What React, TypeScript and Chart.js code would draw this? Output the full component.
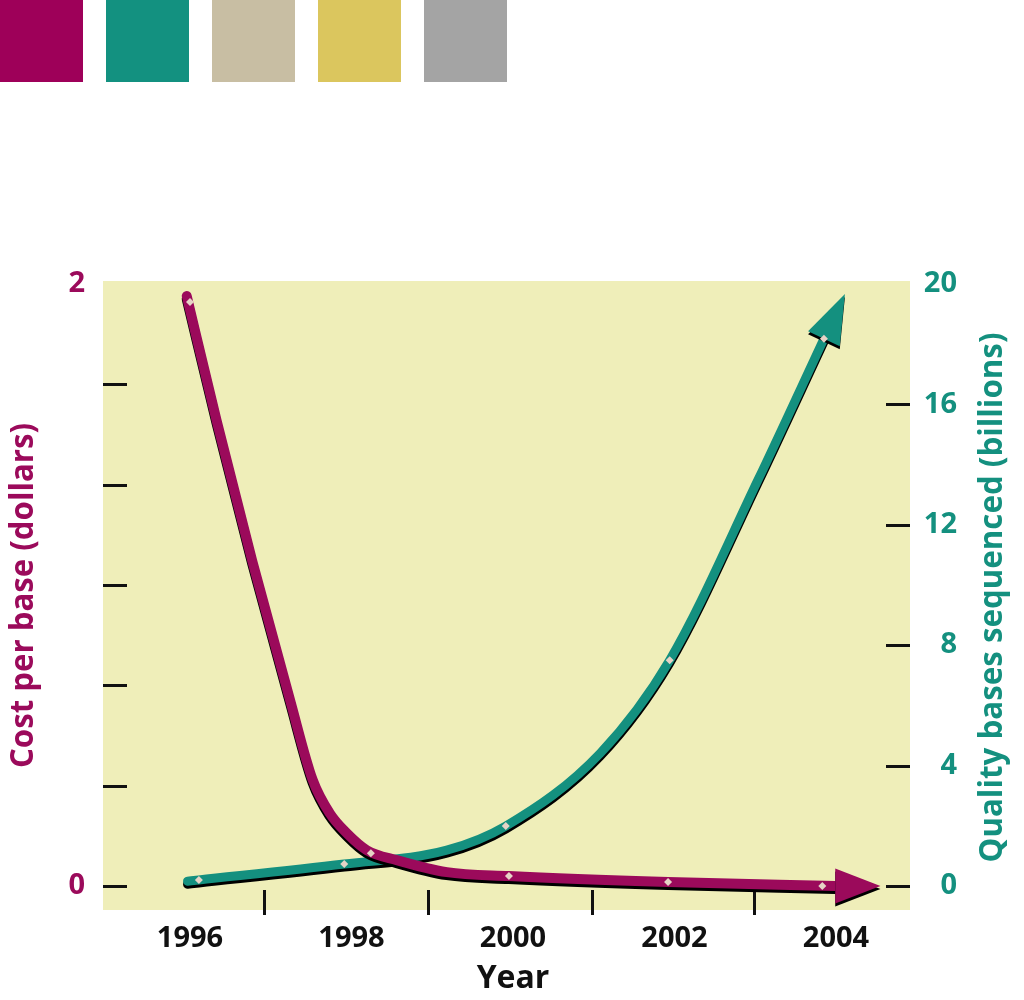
import React, { useEffect, useRef } from 'react';
import { Chart, registerables } from 'chart.js';

Chart.register(...registerables);

// ---------- data ----------
const swatchColors = ['#9e0059', '#139180', '#c8bea3', '#dbc65e', '#a4a4a4'];

const labeledYears = [1996, 1998, 2000, 2002, 2004];
const minorTickYears = [1996.92, 1998.95, 2000.98, 2002.98];
const costTicks = [0, 1 / 3, 2 / 3, 1, 4 / 3, 5 / 3, 2];
const costTickMarks = [0, 1 / 3, 2 / 3, 1, 4 / 3, 5 / 3];
const basesTicks = [0, 4, 8, 12, 16, 20];
const basesTickMarks = [0, 4, 8, 12, 16];

// cost per base (dollars) curve
const costCurveYears = [1995.96, 1996.33, 1996.77, 1997.24, 1997.52, 1997.73, 1997.94, 1998.19, 1998.56, 1999.18, 1999.95, 2001.92, 2003.99];
const costCurveValues = [1.96, 1.546, 1.081, 0.617, 0.352, 0.242, 0.176, 0.119, 0.086, 0.046, 0.033, 0.013, 0.0];
const costArrowTip = [2004.55, 0.0];
const costMarkerYears = [1996.0, 1998.24, 1999.95, 2001.92, 2003.83];
const costMarkerValues = [1.94, 0.109, 0.033, 0.013, 0.0];

// quality bases sequenced (billions) curve
const basesCurveYears = [1995.97, 1996.11, 1997.91, 1999.18, 1999.91, 2001.08, 2001.94, 2003.03, 2003.85];
const basesCurveValues = [0.16, 0.2, 0.73, 1.19, 1.99, 4.41, 7.5, 13.47, 18.18];
const basesArrowTip = [2004.11, 19.67];
const basesMarkerYears = [1996.11, 1997.91, 1999.91, 2001.94, 2003.85];
const basesMarkerValues = [0.2, 0.73, 1.99, 7.5, 18.18];

// ---------- style ----------
const MAGENTA = '#9b0a5b';
const TEAL = '#14907f';
const BG = '#efeeb9';
const MARKER = '#e6d3c6';
const FONT = '"Open Sans", "DejaVu Sans", sans-serif';

const pts = (xs: number[], ys: number[]) => xs.map((x, i) => ({ x, y: ys[i] }));

const arrowTips: Record<string, number[]> = {
  cost: costArrowTip,
  bases: basesArrowTip,
};

const customPlugin = {
  id: 'customDecor',
  beforeDraw(chart: any) {
    const { ctx, chartArea } = chart;
    ctx.save();
    ctx.fillStyle = BG;
    ctx.fillRect(chartArea.left, chartArea.top, chartArea.right - chartArea.left, chartArea.bottom - chartArea.top);
    ctx.restore();
  },
  beforeDatasetsDraw(chart: any) {
    const { ctx, chartArea, scales } = chart;
    ctx.save();
    ctx.strokeStyle = '#111';
    ctx.lineWidth = 3;
    ctx.beginPath();
    costTickMarks.forEach((v) => {
      const y = Math.round(scales.y.getPixelForValue(v)) + 0.5;
      ctx.moveTo(chartArea.left, y);
      ctx.lineTo(chartArea.left + 24, y);
    });
    basesTickMarks.forEach((v) => {
      const y = Math.round(scales.y1.getPixelForValue(v)) + 0.5;
      ctx.moveTo(chartArea.right - 24, y);
      ctx.lineTo(chartArea.right, y);
    });
    minorTickYears.forEach((v) => {
      const x = Math.round(scales.x.getPixelForValue(v)) + 0.5;
      ctx.moveTo(x, chartArea.bottom - 20);
      ctx.lineTo(x, chartArea.bottom + 5);
    });
    ctx.stroke();
    ctx.restore();
  },
  beforeDatasetDraw(chart: any, args: any) {
    const ds = chart.data.datasets[args.index];
    if (!arrowTips[ds.label]) return;
    const ctx = chart.ctx;
    ctx.save();
    ctx.shadowColor = '#000';
    ctx.shadowOffsetX = 0;
    ctx.shadowOffsetY = 3;
    ctx.shadowBlur = 0;
  },
  afterDatasetDraw(chart: any, args: any) {
    const ds = chart.data.datasets[args.index];
    const tip = arrowTips[ds.label];
    if (!tip) return;
    const ctx = chart.ctx;
    const meta = chart.getDatasetMeta(args.index);
    const last = meta.data[meta.data.length - 1];
    const yScale = chart.scales[ds.yAxisID];
    const tx = chart.scales.x.getPixelForValue(tip[0]);
    const ty = yScale.getPixelForValue(tip[1]);
    const dx = tx - last.x;
    const dy = ty - last.y;
    const len = Math.hypot(dx, dy);
    const nx = -dy / len;
    const ny = dx / len;
    const hw = 17.5;
    ctx.fillStyle = ds.borderColor;
    ctx.beginPath();
    ctx.moveTo(tx, ty);
    ctx.lineTo(last.x + nx * hw, last.y + ny * hw);
    ctx.lineTo(last.x - nx * hw, last.y - ny * hw);
    ctx.closePath();
    ctx.fill();
    ctx.restore();
  },
  afterDraw(chart: any) {
    const { ctx, chartArea, scales } = chart;
    const midY = (chartArea.top + chartArea.bottom) / 2;
    ctx.save();
    ctx.textAlign = 'center';
    ctx.textBaseline = 'middle';
    // left title
    ctx.font = `bold 31.5px ${FONT}`;
    ctx.fillStyle = MAGENTA;
    ctx.save();
    ctx.translate(24, midY);
    ctx.rotate(-Math.PI / 2);
    ctx.fillText('Cost per base (dollars)', 0, 0, 345);
    ctx.restore();
    // right title
    ctx.font = `bold 32px ${FONT}`;
    ctx.fillStyle = TEAL;
    ctx.save();
    ctx.translate(993, midY + 2);
    ctx.rotate(-Math.PI / 2);
    ctx.fillText('Quality bases sequenced (billions)', 0, 0, 530);
    ctx.restore();
    // x title
    ctx.fillStyle = '#111';
    ctx.font = `bold 32px ${FONT}`;
    ctx.textBaseline = 'alphabetic';
    ctx.fillText('Year', scales.x.getPixelForValue(2000), 988);
    ctx.restore();
  },
};

export default function App() {
  const canvasRef = useRef<HTMLCanvasElement | null>(null);

  useEffect(() => {
    if (!canvasRef.current) return;
    const tickFont = { family: FONT, size: 29, weight: 'bold' as const };
    const chart = new Chart(canvasRef.current, {
      type: 'line',
      data: {
        datasets: [
          {
            label: 'costMarkers',
            data: pts(costMarkerYears, costMarkerValues),
            yAxisID: 'y',
            showLine: false,
            pointStyle: 'rectRot',
            pointRadius: 4,
            pointBackgroundColor: MARKER,
            pointBorderWidth: 0,
          },
          {
            label: 'basesMarkers',
            data: pts(basesMarkerYears, basesMarkerValues),
            yAxisID: 'y1',
            showLine: false,
            pointStyle: 'rectRot',
            pointRadius: 4,
            pointBackgroundColor: MARKER,
            pointBorderWidth: 0,
          },
          {
            label: 'cost',
            data: pts(costCurveYears, costCurveValues),
            yAxisID: 'y',
            borderColor: MAGENTA,
            backgroundColor: MAGENTA,
            borderWidth: 10,
            pointRadius: 0,
            cubicInterpolationMode: 'monotone',
            borderCapStyle: 'round',
            borderJoinStyle: 'round',
            fill: false,
          },
          {
            label: 'bases',
            data: pts(basesCurveYears, basesCurveValues),
            yAxisID: 'y1',
            borderColor: TEAL,
            backgroundColor: TEAL,
            borderWidth: 9,
            pointRadius: 0,
            cubicInterpolationMode: 'monotone',
            borderCapStyle: 'round',
            borderJoinStyle: 'round',
            fill: false,
          },
        ],
      },
      options: {
        responsive: false,
        maintainAspectRatio: false,
        devicePixelRatio: 1,
        animation: false,
        events: [],
        layout: { padding: { top: 281, left: 0, right: 67, bottom: 0 } },
        plugins: {
          legend: { display: false },
          tooltip: { enabled: false },
          title: { display: false },
        },
        scales: {
          x: {
            type: 'linear',
            position: 'bottom',
            min: 1994.923,
            max: 2004.916,
            grid: { display: false, drawTicks: false },
            border: { display: false },
            afterFit: (s: any) => {
              s.height = 90;
            },
            afterBuildTicks: (s: any) => {
              s.ticks = labeledYears.map((v) => ({ value: v }));
            },
            ticks: {
              autoSkip: false,
              maxRotation: 0,
              padding: 11,
              color: '#111',
              font: tickFont,
              callback: (v: any) => String(v),
            },
          },
          y: {
            type: 'linear',
            position: 'left',
            min: -0.0797,
            max: 2.01,
            grid: { display: false, drawTicks: false },
            border: { display: false },
            afterFit: (s: any) => {
              s.width = 103;
            },
            afterBuildTicks: (s: any) => {
              s.ticks = costTicks.map((v) => ({ value: v }));
            },
            ticks: {
              autoSkip: false,
              padding: 18,
              color: MAGENTA,
              font: tickFont,
              callback: (v: any) => (Math.abs(v) < 1e-6 ? '0' : Math.abs(v - 2) < 1e-6 ? '2' : ''),
            },
          },
          y1: {
            type: 'linear',
            position: 'right',
            min: -0.797,
            max: 20.1,
            grid: { display: false, drawTicks: false },
            border: { display: false },
            afterFit: (s: any) => {
              s.width = 47;
            },
            afterBuildTicks: (s: any) => {
              s.ticks = basesTicks.map((v) => ({ value: v }));
            },
            ticks: {
              autoSkip: false,
              padding: 13,
              crossAlign: 'far',
              color: TEAL,
              font: tickFont,
              callback: (v: any) => String(v),
            },
          },
        },
      },
      plugins: [customPlugin],
    } as any);
    return () => chart.destroy();
  }, []);

  return (
    <div style={{ position: 'absolute', left: 0, top: 0, width: 1024, height: 1000, background: '#fff' }}>
      {swatchColors.map((c, i) => (
        <div
          key={c}
          style={{ position: 'absolute', left: i * 106, top: 0, width: 83, height: 82, background: c }}
        />
      ))}
      <canvas
        ref={canvasRef}
        width={1024}
        height={1000}
        style={{ position: 'absolute', left: 0, top: 0, width: 1024, height: 1000 }}
      />
    </div>
  );
}
